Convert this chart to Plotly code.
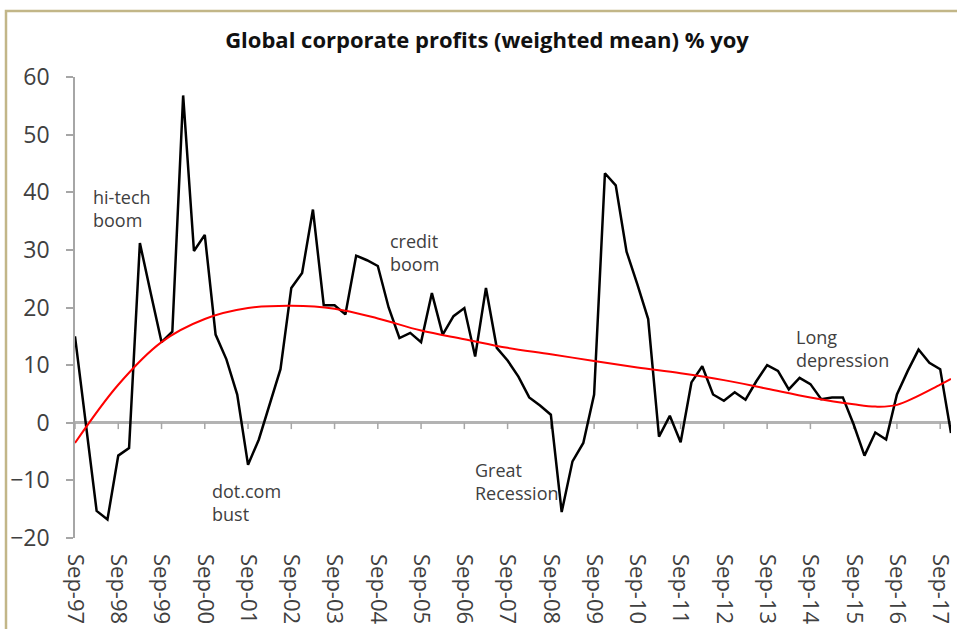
import plotly.graph_objects as go

# ------------------------------------------
# DATA
# ------------------------------------------
MONTHS = ["Mar", "Jun", "Sep", "Dec"]
# quarters Sep-97 .. Dec-17
QUARTERS = [f"{m}-{y % 100:02d}" for y in range(1997, 2018) for m in MONTHS][2:]

PROFITS = [
    15.0, 0.3, -15.3, -16.8, -5.7, -4.4, 31.2, 22.5, 14.0, 15.8,
    56.8, 29.8, 32.6, 15.3, 11.0, 4.9, -7.3, -2.9, 3.0, 9.3,
    23.4, 26.0, 37.0, 20.4, 20.4, 18.8, 29.0, 28.2, 27.2, 20.0,
    14.7, 15.6, 14.0, 22.5, 15.3, 18.5, 19.9, 11.5, 23.4, 13.0,
    10.8, 8.0, 4.4, 3.0, 1.4, -15.5, -6.7, -3.5, 4.9, 43.3,
    41.2, 29.7, 24.0, 18.0, -2.4, 1.2, -3.4, 7.0, 9.8, 4.9,
    3.8, 5.3, 4.0, 7.2, 10.0, 9.0, 5.8, 7.8, 6.7, 4.1,
    4.4, 4.4, -0.3, -5.7, -1.7, -2.9, 4.9, 9.0, 12.7, 10.4,
    9.3, -1.8,
]

# polynomial trend
TREND_QUARTERS = [
    "Sep-97", "Sep-98", "Sep-99", "Sep-00", "Sep-01", "Sep-02", "Sep-03",
    "Sep-04", "Sep-05", "Sep-06", "Sep-07", "Sep-08", "Sep-09", "Sep-10",
    "Sep-11", "Sep-12", "Sep-13", "Sep-14", "Sep-15", "Mar-16", "Sep-16",
    "Sep-17", "Dec-17",
]
TREND = [
    -3.5, 6.6, 14.0, 18.0, 19.9, 20.3, 19.8,
    18.1, 16.0, 14.5, 13.0, 11.9, 10.7, 9.6,
    8.6, 7.4, 5.9, 4.4, 3.2, 2.8, 3.1,
    6.6, 7.6,
]

TICK_LABELS = [q for q in QUARTERS if q.startswith("Sep")]

# text, quarter it starts at (+ offset in quarters), y
ANNOTATIONS = [
    ("hi-tech<br>boom", "Dec-97", 0.5, 37.2),
    ("dot.com<br>bust", "Sep-00", 0.5, -13.9),
    ("credit<br>boom", "Sep-04", 0.9, 29.6),
    ("Great<br>Recession", "Sep-06", 0.8, -10.2),
    ("Long<br>depression", "Mar-14", 0.5, 12.8),
]

# ------------------------------------------
# STYLE
# ------------------------------------------
FONT = "Open Sans"
AXIS_GREY = "#a6a6a6"
TEXT_GREY = "#404040"
Y_MIN, Y_MAX = -20, 60
W, H = 957, 629
M_L, M_R, M_T, M_B = 75, 6, 77, 91
ZERO_TICK_LEN = 1.1      # in y units (~6 px)

x_idx = list(range(len(QUARTERS)))
tick_idx = [QUARTERS.index(q) for q in TICK_LABELS]
trend_idx = [QUARTERS.index(q) for q in TREND_QUARTERS]
x_range = [0, len(QUARTERS) - 1]

fig = go.Figure()

# small year ticks hanging off the zero line (Excel's crossing category axis)
fig.add_trace(go.Scatter(
    x=tick_idx, y=[0] * len(tick_idx), mode="markers",
    marker=dict(size=1, opacity=0),
    error_y=dict(type="data", symmetric=False, array=[0] * len(tick_idx),
                 arrayminus=[ZERO_TICK_LEN] * len(tick_idx),
                 width=0, thickness=1.5, color=AXIS_GREY),
    hoverinfo="skip", showlegend=False,
))
fig.add_trace(go.Scatter(
    x=x_idx, y=PROFITS, mode="lines",
    line=dict(color="black", width=2.5),
    text=QUARTERS, hovertemplate="%{text}: %{y:.1f}%<extra></extra>",
    showlegend=False,
))
fig.add_trace(go.Scatter(
    x=trend_idx, y=TREND, mode="lines",
    line=dict(color="#ff0000", width=2, shape="spline"),
    hoverinfo="skip", showlegend=False,
))

# Beschriftungen
for text, q, dx, y in ANNOTATIONS:
    fig.add_annotation(
        x=QUARTERS.index(q) + dx, y=y, text=text, showarrow=False,
        xanchor="left", yanchor="middle", align="left",
        font=dict(family=FONT, size=18, color=TEXT_GREY),
    )

# plot frame (only top/left edge visible in the crop)
plot_w = W - M_L - M_R
plot_h = H - M_T - M_B
fig.add_shape(
    type="rect", xref="paper", yref="paper", layer="above",
    x0=(6 - M_L) / plot_w, x1=(W + 10 - M_L) / plot_w,
    y0=-(H + 10 - M_T - plot_h) / plot_h, y1=1 + (M_T - 11) / plot_h,
    line=dict(color="#c2b688", width=2.5), fillcolor="rgba(0,0,0,0)",
)

fig.update_layout(
    width=W, height=H,
    margin=dict(l=M_L, r=M_R, t=M_T, b=M_B),
    paper_bgcolor="white", plot_bgcolor="rgba(0,0,0,0)",
    font=dict(family=FONT, color=TEXT_GREY),
    title=dict(
        text="<b>Global corporate profits (weighted mean) % yoy</b>",
        x=487 / W, xref="container", xanchor="center",
        y=1 - 40 / H, yref="container", yanchor="middle",
        font=dict(family=FONT, size=22, color="#111111"),
    ),
    xaxis=dict(
        range=x_range, tickmode="array", tickvals=tick_idx, ticktext=TICK_LABELS,
        tickangle=90, ticks="", showline=False, showgrid=False, zeroline=False,
        tickfont=dict(size=22, color=TEXT_GREY), ticklabelstandoff=15,
        ticklabeloverflow="allow", automargin=False,
    ),
    yaxis=dict(
        range=[Y_MIN, Y_MAX], dtick=10, ticks="outside", ticklen=7,
        tickcolor=AXIS_GREY, tickwidth=1.5, showline=True, linecolor=AXIS_GREY,
        linewidth=1.5, showgrid=False,
        zeroline=True, zerolinecolor="#b3b3b3", zerolinewidth=2.5,
        tickfont=dict(size=23, color=TEXT_GREY), ticklabelstandoff=12,
        automargin=False,
    ),
    hovermode="closest",
)

# no default body margin, so the figure sits flush in the window
fig.write_html(
    "out.html",
    config={"displayModeBar": False},
    post_script="document.body.style.margin='0';document.body.style.overflow='hidden';",
)
